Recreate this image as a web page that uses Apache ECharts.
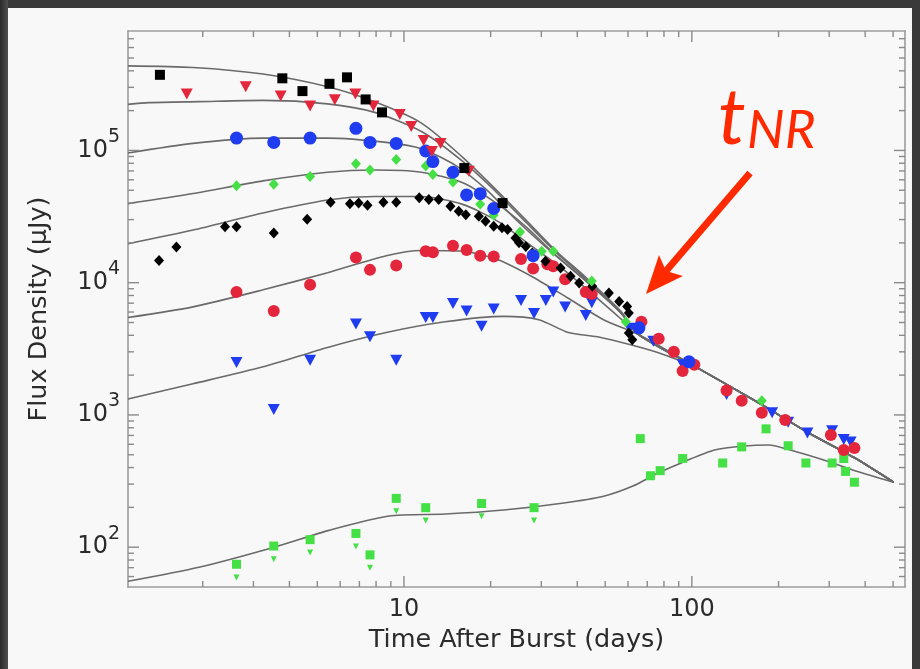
<!DOCTYPE html>
<html><head><meta charset="utf-8">
<script src="https://cdn.jsdelivr.net/npm/echarts@6/dist/echarts.min.js"></script>
<style>html,body{margin:0;padding:0;background:#f8f8f8}#c{width:920px;height:669px}</style>
</head><body><div id="c"></div>
<script>
// ---- axis range and ticks ----
const xRange = [1.1, 550];
const yRange = [50, 800000];
const xMajorTicks = [10, 100];
const yMajorTicks = [100, 1000, 10000, 100000];
const xMinorTicks = [2,3,4,5,6,7,8,9,20,30,40,50,60,70,80,90,200,300,400,500];
const yMinorTicks = [60,70,80,90,200,300,400,500,600,700,800,900,2000,3000,4000,5000,6000,7000,8000,9000,
  20000,30000,40000,50000,60000,70000,80000,90000,200000,300000,400000,500000,600000,700000];

// ---- observed points [days, flux µJy] ----
const blackSquares = [[1.42,373000],[3.78,351000],[4.44,281000],[5.51,319000],[6.34,357000],[7.36,243000],[8.39,194000],[16.2,73600],[22.0,40000]];
const redTriangles = [[1.76,267000],[2.82,303000],[3.73,258000],[4.72,217000],[5.75,242000],[6.78,267000],[7.83,217000],[9.67,187000],[10.6,152000],[11.7,119000],[12.5,98000],[13.4,113000],[16.8,69700]];
const blueCircles = [[2.62,124000],[3.53,115000],[4.72,124000],[6.81,147000],[7.62,115000],[9.40,113000],[11.9,99000],[12.6,82400],[14.8,68400],[16.5,46100],[18.4,47100],[20.5,36400],[28.1,16000],[65.5,4560],[97.7,2520]];
const greenDiamonds = [[2.62,54000],[3.53,55600],[4.72,63500],[6.81,79400],[7.62,71100],[9.40,85500],[11.9,76400],[12.6,65800],[14.8,57700],[18.4,39100],[20.5,32500],[25.3,24200],[30.1,17300],[33.0,17300],[44.9,10300],[58.9,5070],[175,1280]];
const blackDiamonds = [[1.41,14700],[1.62,18600],[2.39,26500],[2.62,26500],[3.53,23800],[4.61,30200],[5.56,40600],[6.49,39600],[6.96,40000],[7.47,38500],[8.48,40600],[9.40,40600],[11.3,43800],[12.2,42600],[13.2,42600],[14.5,37800],[15.5,34700],[16.4,32700],[18.2,31800],[19.2,29100],[20.5,26700],[21.9,26000],[22.9,25200],[24.4,21800],[25.1,20000],[26.5,18800],[27.9,16800],[31.0,14500],[35.0,12900],[37.9,11200],[40.6,9960],[45.1,9380],[51.5,8360],[55.9,7210],[59.6,6610],[60.4,5890],[60.4,4160],[62.1,3700]];
const redCircles = [[2.62,8510],[3.53,6100],[4.72,9660],[6.81,15500],[7.62,12500],[9.40,13500],[11.9,17300],[12.6,17000],[14.8,19000],[16.5,17700],[18.4,16000],[20.5,15800],[25.5,15100],[28.1,12800],[31.5,13800],[33.0,13300],[36.3,10600],[42.8,8510],[44.9,8200],[66.8,5070],[76.7,3770],[86.6,3000],[92.9,2150],[102,2400],[132,1530],[149,1280],[175,1040],[211,916],[304,705],[337,543],[367,562]];
const blueTriangles = [[2.62,2490],[3.53,1100],[4.72,2590],[6.81,4870],[7.62,3900],[9.40,2590],[11.9,5450],[12.6,5450],[14.8,6950],[16.5,6100],[18.6,4690],[20.5,6320],[25.5,7330],[28.3,5860],[31.1,7330],[33.0,8510],[36.3,6560],[42.8,5650],[44.9,7060],[60.8,4520],[73.5,3610],[92.9,2400],[132,1430],[190,1040],[216,879],[252,731],[307,759],[337,653],[356,624]];
const greenSquares = [[2.62,74.3],[3.53,102],[4.72,114],[6.81,127],[7.62,87.5],[9.40,234],[11.9,199],[18.6,214],[28.3,199],[66.2,662],[71.8,347],[77.6,379],[92.9,468],[128,433],[149,573],[181,785],[216,585],[249,433],[307,433],[337,468],[342,374],[367,310]];
const greenArrows = [[2.62,59],[3.53,81],[4.72,91],[6.81,101],[7.62,70],[9.40,187],[11.9,159],[18.6,171],[28.3,159]];

// ---- model curves ----
const modelTail = [[65.5,4040],[106,2230],[171,1230],[255,731],[371,468],[502,310]];
const model1 = [[1.1,436000],[1.85,424000],[3.24,378000],[5.43,303000],[7.91,233000],[11.5,161000],[16.0,88700],[21.2,48900],[26.8,29100],[33.8,17300],[42.8,11000],[56.6,6100]];
const model2 = [[1.1,223000],[1.30,230000],[1.94,234000],[3.24,239000],[5.43,225000],[7.91,194000],[11.5,139000],[16.0,82600],[21.2,47200],[26.8,28000],[33.8,16900],[42.8,10700],[56.6,5930]];
const model3 = [[1.1,95500],[1.85,113000],[3.24,124000],[5.43,124000],[8.68,115000],[11.5,103000],[15.2,76400],[19.3,50700],[24.4,30200],[32.3,17300],[42.8,10300],[56.6,5930]];
const model4 = [[1.1,39600],[1.85,47200],[3.24,58900],[5.43,68400],[7.91,71100],[11.5,68400],[16.0,56900],[21.2,39100],[26.8,26000],[33.8,16000],[44.9,9530],[56.6,5930]];
const model5 = [[1.1,19700],[1.85,25000],[3.24,33700],[5.43,42200],[7.91,44800],[11.5,44800],[16.0,39100],[21.2,29100],[26.8,20000],[35.5,12800],[47.0,7620],[59.4,4870]];
const model6 = [[1.1,5450],[1.85,6560],[3.24,8830],[5.43,11900],[8.68,16000],[11.5,17500],[16.0,17300],[21.2,14900],[28.1,11000],[37.2,7620],[49.3,5250]];
const model7 = [[1.1,1320],[1.85,1720],[3.24,2310],[5.43,3240],[8.68,4200],[13.9,5060],[22.2,5560],[29.4,5250],[37.2,4200],[47.0,3900],[62.2,3360],[78.7,2890]];
const model8 = [[1.1,55.2],[1.94,70.5],[3.54,100],[5.49,134],[8.87,172],[13.9,178],[22.2,191],[35.4,215],[49.4,243],[62.4,290],[75.0,357],[95.3,449],[120,543],[152,582],[184,593],[232,525],[294,449],[371,377],[502,310]];

const RED = '#e3263b', BLUE = '#1f3cf0', GREEN = '#45e045', BLACK = '#000000';
const TEXT = '#2b2b2b', AXIS = '#9c9c9c', TICK = '#8a8a8a', CURVE = '#6a6a6a';
const FONT = 'DejaVu Sans';
const MAJOR_LEN = 11, MINOR_LEN = 6;

function withTail(arr) {
  const last = arr[arr.length - 1][0];
  return arr.concat(modelTail.filter(p => p[0] > last));
}
const models = [model1, model2, model3, model4, model5, model6, model7].map(withTail).concat([model8]);

function isPow(v, list) {
  const l = Math.log10(v), e = Math.round(l);
  return Math.abs(l - e) < 1e-6 && list.indexOf(Math.pow(10, e)) >= 0 ? e : null;
}

function scatter(data, symbol, size, color, rotate) {
  return { type: 'scatter', data: data, symbol: symbol, symbolSize: size, symbolRotate: rotate || 0,
    itemStyle: { color: color, opacity: 1 }, z: 5, silent: true };
}

const series = [];
models.forEach(m => series.push({ type: 'line', data: m, symbol: 'none', smooth: 0.25,
  lineStyle: { color: CURVE, width: 1.6 }, z: 3, silent: true }));
series.push(scatter(greenArrows, 'triangle', [6, 6], GREEN, 180));
series.push(scatter(greenSquares, 'rect', 9, GREEN));
series.push(scatter(blueTriangles, 'triangle', [12, 11], BLUE, 180));
series.push(scatter(redCircles, 'circle', 12, RED));
series.push(scatter(blackDiamonds, 'diamond', [10, 11], BLACK));
series.push(scatter(greenDiamonds, 'diamond', [10, 11], GREEN));
series.push(scatter(blueCircles, 'circle', 13, BLUE));
series.push(scatter(redTriangles, 'triangle', [12, 11], RED, 180));
series.push(scatter(blackSquares, 'rect', 10, BLACK));

function axisDecor(extra) {
  return Object.assign({
    axisLine: { show: true, onZero: false, lineStyle: { color: AXIS, width: 1.6 } },
    splitLine: { show: false }, axisTick: { show: false }, minorTick: { show: false }
  }, extra);
}

const baseGraphic = [
  { type: 'rect', shape: { x: 0, y: 0, width: 920, height: 8 }, style: { fill: '#3a3a3a' }, silent: true, z: 100 },
  { type: 'rect', shape: { x: 0, y: 0, width: 8, height: 669 },
    style: { fill: new echarts.graphic.LinearGradient(0, 0, 1, 0, [{ offset: 0, color: '#2a2a2a' }, { offset: 1, color: '#505050' }]) }, silent: true, z: 100 },
  { type: 'rect', shape: { x: 912, y: 0, width: 8, height: 669 }, style: { fill: '#3a3a3a' }, silent: true, z: 100 },
  { type: 'text', x: 718, y: 119, style: { text: 't', font: 'italic 78px Lato', fill: '#ff2a00', verticalAlign: 'middle', align: 'left' }, silent: true, z: 100 },
  { type: 'text', x: 747, y: 131, style: { text: 'NR', font: 'italic 53px Lato', fill: '#ff2a00', verticalAlign: 'middle', align: 'left' }, silent: true, z: 100 },
  { type: 'line', shape: { x1: 750, y1: 173, x2: 666, y2: 271 }, style: { stroke: '#ff2a00', lineWidth: 7 }, silent: true, z: 100 },
  { type: 'polygon', shape: { points: [[646, 294], [659, 255], [666, 271], [683, 276]] }, style: { fill: '#ff2a00' }, silent: true, z: 100 }
];

const chart = echarts.init(document.getElementById('c'), null, { renderer: 'canvas' });
chart.setOption({
  backgroundColor: '#f8f8f8',
  animation: false,
  grid: { left: 128, right: 15, top: 31, bottom: 82, show: false },
  xAxis: [axisDecor({
    type: 'log', logBase: 10, min: xRange[0], max: xRange[1], position: 'bottom',
    name: 'Time After Burst (days)', nameLocation: 'middle', nameGap: 40,
    nameTextStyle: { fontFamily: FONT, fontSize: 25.5, color: TEXT },
    axisLabel: { margin: 11, fontFamily: FONT, fontSize: 24, color: TEXT, showMinLabel: true, showMaxLabel: true,
      formatter: v => { const e = isPow(v, xMajorTicks); return e === null ? '' : String(Math.pow(10, e)); } }
  }), axisDecor({
    type: 'log', logBase: 10, min: xRange[0], max: xRange[1], position: 'top', axisLabel: { show: false }
  })],
  yAxis: [axisDecor({
    type: 'log', logBase: 10, min: yRange[0], max: yRange[1], position: 'left',
    name: 'Flux Density (\u00b5Jy)', nameLocation: 'middle', nameGap: 76,
    nameTextStyle: { fontFamily: FONT, fontSize: 25.5, color: TEXT },
    axisLabel: { margin: 8, showMinLabel: true, showMaxLabel: true,
      formatter: v => { const e = isPow(v, yMajorTicks); return e === null ? '' : '{b|10}{s|' + e + '}'; },
      rich: {
        b: { fontFamily: FONT, fontSize: 24, color: TEXT, lineHeight: 46 },
        s: { fontFamily: FONT, fontSize: 19, color: TEXT, verticalAlign: 'top' }
      } }
  }), axisDecor({
    type: 'log', logBase: 10, min: yRange[0], max: yRange[1], position: 'right', axisLabel: { show: false }
  })],
  graphic: baseGraphic,
  series: series
});

// tick marks on all four sides, positioned through the axes' own log scales
const corner0 = chart.convertToPixel({ gridIndex: 0 }, [xRange[0], yRange[0]]);
const corner1 = chart.convertToPixel({ gridIndex: 0 }, [xRange[1], yRange[1]]);
const tickEls = [];
const seg = (x1, y1, x2, y2) => ({ type: 'line', silent: true, z: 90,
  shape: { x1: x1, y1: y1, x2: x2, y2: y2 }, style: { stroke: TICK, lineWidth: 1.4 } });
function addXTicks(vals, len) {
  vals.forEach(v => {
    const x = chart.convertToPixel({ gridIndex: 0 }, [v, yRange[0]])[0];
    tickEls.push(seg(x, corner0[1], x, corner0[1] - len), seg(x, corner1[1], x, corner1[1] + len));
  });
}
function addYTicks(vals, len) {
  vals.forEach(v => {
    const y = chart.convertToPixel({ gridIndex: 0 }, [xRange[0], v])[1];
    tickEls.push(seg(corner0[0], y, corner0[0] + len, y), seg(corner1[0], y, corner1[0] - len, y));
  });
}
addXTicks(xMajorTicks, MAJOR_LEN); addXTicks(xMinorTicks, MINOR_LEN);
addYTicks(yMajorTicks, MAJOR_LEN); addYTicks(yMinorTicks, MINOR_LEN);
chart.setOption({ graphic: baseGraphic.concat(tickEls) });
</script>
</body></html>
